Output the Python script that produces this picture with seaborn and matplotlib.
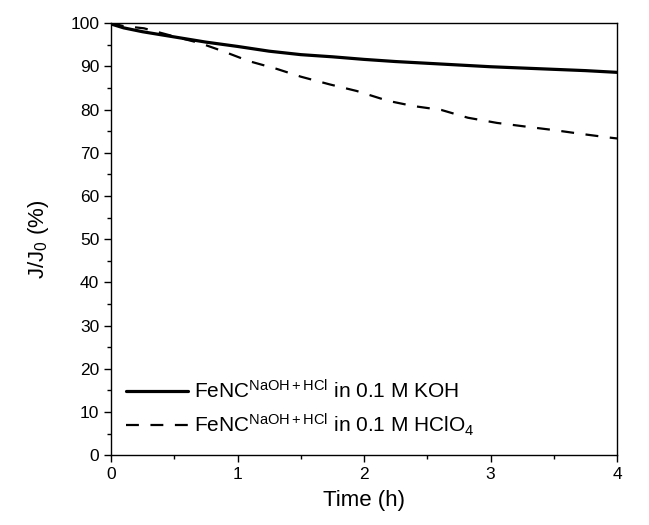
import numpy as np
import pandas as pd
import seaborn as sns
import matplotlib.pyplot as plt

# Chronoamperometry retention data
t_koh = [0.0, 0.1, 0.25, 0.5, 0.75, 1.0, 1.25, 1.5, 1.75, 2.0, 2.25, 2.5, 2.75, 3.0, 3.25, 3.5, 3.75, 4.0]
j_koh = [99.8, 98.9, 98.0, 96.8, 95.6, 94.6, 93.5, 92.7, 92.2, 91.6, 91.1, 90.7, 90.3, 89.9, 89.6, 89.3, 89.0, 88.6]

t_hclo4 = [0.0, 0.1, 0.26, 0.5, 0.7, 0.875, 1.09, 1.31, 1.5, 1.73, 1.94, 2.19, 2.39, 2.61, 2.82, 3.05, 3.29, 3.51, 3.73, 3.94, 4.0]
j_hclo4 = [100.0, 99.3, 98.8, 96.9, 95.4, 93.6, 91.2, 89.4, 87.6, 85.8, 84.3, 82.0, 80.8, 79.9, 78.1, 76.9, 76.0, 75.2, 74.3, 73.5, 73.3]

labels = [r"FeNC$^{\mathrm{NaOH+HCl}}$ in 0.1 M KOH",
          r"FeNC$^{\mathrm{NaOH+HCl}}$ in 0.1 M HClO$_4$"]

sns.set_style("ticks")
plt.rcParams['font.family'] = ['Liberation Sans', 'DejaVu Sans']
plt.rcParams['mathtext.fontset'] = 'custom'
plt.rcParams['mathtext.rm'] = 'Liberation Sans'
plt.rcParams['mathtext.it'] = 'Liberation Sans'
plt.rcParams['text.color'] = 'black'
plt.rcParams['axes.labelcolor'] = 'black'
plt.rcParams['xtick.color'] = 'black'
plt.rcParams['ytick.color'] = 'black'

fig = plt.figure(figsize=(6.49, 5.25), dpi=100)
ax = fig.add_axes([0.171, 0.133, 0.78, 0.823])

df1 = pd.DataFrame({'t': t_koh, 'j': j_koh})
df2 = pd.DataFrame({'t': t_hclo4, 'j': j_hclo4})
sns.lineplot(data=df1, x='t', y='j', ax=ax, color='black', linewidth=2.3, label=labels[0])
sns.lineplot(data=df2, x='t', y='j', ax=ax, color='black', linewidth=1.6, label=labels[1])
ax.lines[1].set_dashes([5.8, 5.2])

ax.set_xlim(0, 4)
ax.set_ylim(0, 100)
ax.set_xticks([0, 1, 2, 3, 4])
ax.set_xticks(np.arange(0.5, 4, 1.0), minor=True)
ax.set_yticks(np.arange(0, 101, 10))
ax.set_yticks(np.arange(5, 100, 10), minor=True)
ax.tick_params(which='major', direction='out', length=5, width=1, labelsize=12.5)
ax.tick_params(which='minor', direction='out', length=3, width=1)
for s in ax.spines.values():
    s.set_linewidth(1)
    s.set_color('black')

ax.set_xlabel('Time (h)', fontsize=16, labelpad=6)
ax.set_ylabel(r'J/J$_0$ (%)', fontsize=16, labelpad=14)

ax.legend(loc='lower left', frameon=False, fontsize=15, handlelength=3.0,
          handletextpad=0.3, labelspacing=0.45, borderaxespad=0.3,
          bbox_to_anchor=(0.0, 0.005))

fig.savefig('out.png', dpi=100)
